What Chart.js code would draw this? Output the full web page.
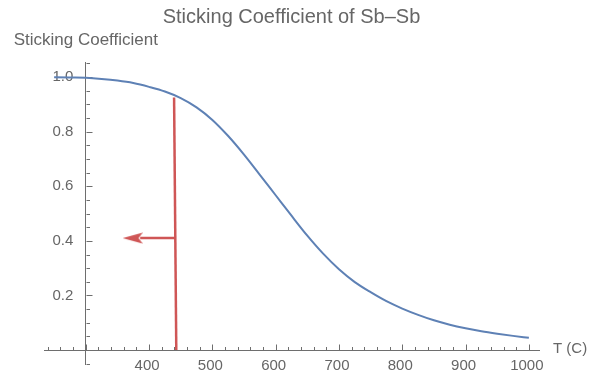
<!DOCTYPE html>
<html>
<head>
<meta charset="utf-8">
<script src="https://cdn.jsdelivr.net/npm/chart.js@4"></script>
<style>
  html, body { margin: 0; padding: 0; background: #fff; }
  #wrap { width: 594px; height: 375px; }
</style>
</head>
<body>
<div id="wrap"><canvas id="chart"></canvas></div>
<script>
// curve: sticking coefficient vs temperature
const temps = [250, 275, 300, 325, 350, 375, 400, 425, 450, 475, 500, 525, 550, 575, 600,
               625, 650, 675, 700, 725, 750, 775, 800, 825, 850, 875, 900, 925, 950, 975, 1000];
const sticking = [0.999, 0.998, 0.997, 0.993, 0.987, 0.978, 0.964, 0.947, 0.923, 0.889, 0.843, 0.784,
                  0.716, 0.642, 0.567, 0.492, 0.419, 0.353, 0.296, 0.249, 0.212, 0.179, 0.152, 0.129,
                  0.109, 0.093, 0.080, 0.069, 0.060, 0.052, 0.045];

// red annotation: vertical marker and arrow pointing left
const markerT = [443, 439.5];
const markerS = [0, 0.925];
const arrowT = [441.5, 386];
const arrowS = [0.41, 0.41];
const arrowHeadT = [374];
const arrowHeadS = [0.41];

const xTicks = [400, 500, 600, 700, 800, 900, 1000];
const yTicks = [0.2, 0.4, 0.6, 0.8, 1.0];
const axisCrossT = 300;

const FONT = "'Liberation Sans', Arial, sans-serif";
const gray = '#666666';
const axisGray = '#6e6e6e';
const blue = '#5e81b5';
const red = '#cf5656';

function pts(xs, ys) {
  return xs.map((x, i) => ({x: x, y: ys[i]}));
}

// arrow head image used as point style
const head = document.createElement('canvas');
head.width = 20; head.height = 12;
(function () {
  const c = head.getContext('2d');
  c.fillStyle = red;
  c.beginPath();
  c.moveTo(0, 6);
  c.lineTo(20, 0.5);
  c.lineTo(16, 6);
  c.lineTo(20, 11.5);
  c.closePath();
  c.fill();
})();

// mathematica style ticks, pointing into the plot
const tickMarks = {
  id: 'tickMarks',
  beforeDatasetsDraw(chart) {
    const ctx = chart.ctx;
    const xs = chart.scales.x, ys = chart.scales.y;
    const x0 = Math.round(xs.getPixelForValue(axisCrossT)) + 0.5;
    const y0 = Math.round(ys.getPixelForValue(0)) + 0.5;
    ctx.save();
    ctx.strokeStyle = axisGray;
    ctx.lineWidth = 1;
    ctx.beginPath();
    for (let v = 240; v <= xs.max; v += 20) {
      const px = Math.round(xs.getPixelForValue(v)) + 0.5;
      const len = v % 100 === 0 ? 6 : 3.5;
      ctx.moveTo(px, y0);
      ctx.lineTo(px, y0 - len);
    }
    for (let k = -1; k <= 21; k++) {
      const v = k * 0.05;
      if (v > ys.max + 1e-9 || v < ys.min - 1e-9) continue;
      const py = Math.round(ys.getPixelForValue(v)) + 0.5;
      const len = k % 4 === 0 ? 6 : 3.5;
      ctx.moveTo(x0, py);
      ctx.lineTo(x0 + len, py);
    }
    ctx.stroke();
    ctx.restore();
  },
  afterDraw(chart) {
    const ctx = chart.ctx;
    const xs = chart.scales.x, ys = chart.scales.y;
    ctx.save();
    ctx.fillStyle = gray;
    ctx.textBaseline = 'middle';
    ctx.font = '17px ' + FONT;
    ctx.textAlign = 'center';
    ctx.fillText('Sticking Coefficient', xs.getPixelForValue(axisCrossT), chart.chartArea.top - 22);
    ctx.font = '15px ' + FONT;
    ctx.textAlign = 'left';
    ctx.fillText('T (C)', chart.chartArea.right + 14, ys.getPixelForValue(0) - 1);
    ctx.restore();
  }
};

const ctx = document.getElementById('chart');
const chart = new Chart(ctx, {
  type: 'scatter',
  data: {
    datasets: [{
      label: 'marker',
      data: pts(markerT, markerS),
      showLine: true,
      borderColor: red,
      borderWidth: 2.5,
      pointRadius: 0
    }, {
      label: 'arrow',
      data: pts(arrowT, arrowS),
      showLine: true,
      borderColor: red,
      borderWidth: 2.5,
      pointRadius: 0
    }, {
      label: 'arrow head',
      data: pts(arrowHeadT, arrowHeadS),
      pointStyle: head,
      pointRadius: 10
    }, {
      label: 'Sticking Coefficient',
      data: pts(temps, sticking),
      showLine: true,
      borderColor: blue,
      borderWidth: 2,
      pointRadius: 0,
      cubicInterpolationMode: 'monotone'
    }]
  },
  options: {
    responsive: true,
    maintainAspectRatio: false,
    animation: false,
    devicePixelRatio: 1,
    layout: { padding: { left: 44, right: 55, top: 0, bottom: 10 } },
    plugins: {
      legend: { display: false },
      tooltip: { enabled: false },
      title: {
        display: true,
        text: 'Sticking Coefficient of Sb\u2013Sb',
        color: gray,
        font: { family: FONT, size: 20, weight: 'normal' },
        padding: { top: 5, bottom: 33 }
      }
    },
    scales: {
      x: {
        type: 'linear',
        min: 234,
        max: 1016,
        position: { y: 0 },
        afterBuildTicks: s => { s.ticks = xTicks.map(v => ({value: v})); },
        ticks: {
          color: gray,
          font: { family: FONT, size: 15 },
          padding: 7,
          labelOffset: -2,
          maxRotation: 0,
          callback: v => String(v)
        },
        grid: { drawOnChartArea: false, drawTicks: false },
        border: { color: axisGray, width: 1 }
      },
      y: {
        type: 'linear',
        min: -0.051,
        max: 1.055,
        position: { x: axisCrossT },
        afterBuildTicks: s => { s.ticks = yTicks.map(v => ({value: v})); },
        ticks: {
          color: gray,
          font: { family: FONT, size: 15 },
          padding: 0,
          // labels sit right on the crossing axis, so keep a gap with trailing spaces
          callback: v => v.toFixed(1) + '   '
        },
        grid: { drawOnChartArea: false, drawTicks: false },
        border: { color: axisGray, width: 1 }
      }
    }
  },
  plugins: [tickMarks]
});
</script>
</body>
</html>
